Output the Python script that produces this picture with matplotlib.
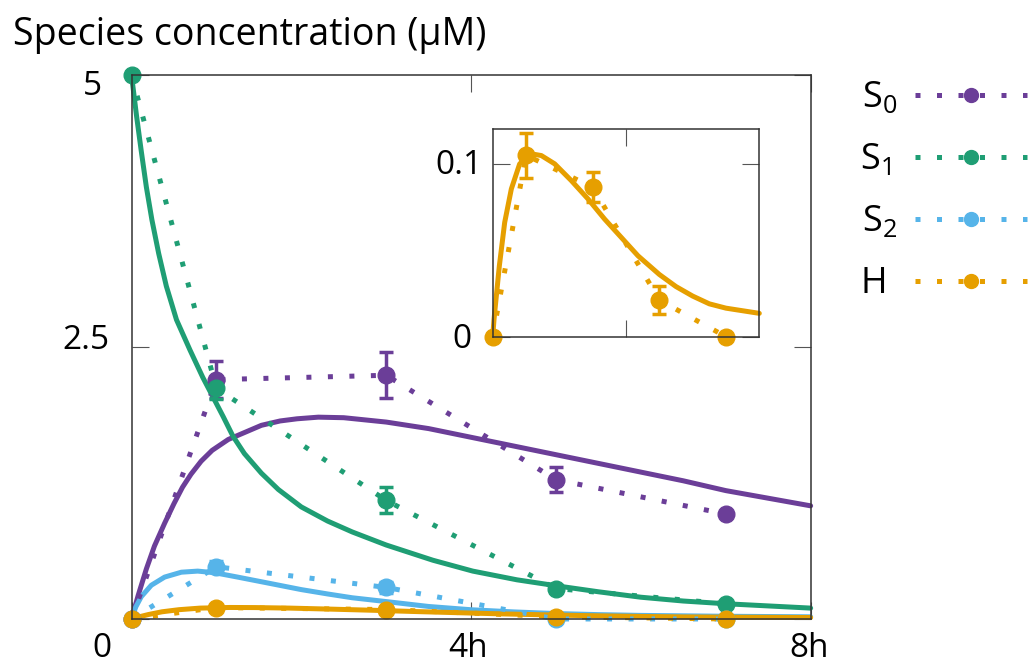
import matplotlib
matplotlib.use('Agg')
import matplotlib.pyplot as plt
from matplotlib.lines import Line2D

plt.rcParams['font.family'] = ['Open Sans', 'DejaVu Sans']
plt.rcParams['mathtext.default'] = 'regular'

# measured time points (hours)
t_data = [0, 1, 3, 5, 7]

s0_data = [0.0, 2.20, 2.24, 1.28, 0.965]
s0_err = [0.0, 0.17, 0.21, 0.115, 0.0]
s1_data = [5.0, 2.12, 1.09, 0.28, 0.14]
s1_err = [0.0, 0.10, 0.12, 0.03, 0.02]
s2_data = [0.0, 0.48, 0.29, 0.0, 0.0]
s2_err = [0.0, 0.05, 0.05, 0.0, 0.0]
h_data = [0.0, 0.105, 0.0865, 0.0212, 0.0]
h_err = [0.0, 0.013, 0.0087, 0.0082, 0.0]

# model curves
s0_fit_t = [0, 0.08, 0.175, 0.27, 0.39, 0.5, 0.6, 0.7, 0.82, 0.95, 1.14, 1.35, 1.53, 1.75, 1.95,
            2.2, 2.5, 3.0, 3.5, 4.0, 4.5, 5.0, 5.5, 6.0, 6.5, 7.0, 7.5, 8.0]
s0_fit = [0, 0.22, 0.46, 0.67, 0.88, 1.06, 1.21, 1.33, 1.45, 1.55, 1.65, 1.72, 1.78, 1.82, 1.84,
          1.855, 1.85, 1.81, 1.75, 1.67, 1.59, 1.51, 1.43, 1.35, 1.27, 1.18, 1.11, 1.04]
s1_fit_t = [0, 0.06, 0.115, 0.175, 0.24, 0.32, 0.41, 0.53, 0.69, 0.84, 0.96, 1.08, 1.195, 1.33,
            1.53, 1.73, 2.0, 2.31, 2.6, 3.0, 3.55, 4.02, 4.54, 5.05, 5.5, 6.0, 6.5, 7.0, 7.5, 8.0]
s1_fit = [5.0, 4.62, 4.30, 3.97, 3.67, 3.36, 3.06, 2.75, 2.47, 2.22, 2.04, 1.86, 1.68, 1.52,
          1.34, 1.19, 1.03, 0.90, 0.80, 0.68, 0.54, 0.44, 0.36, 0.30, 0.25, 0.20, 0.165, 0.14, 0.12, 0.10]
s2_fit_t = [0, 0.05, 0.115, 0.233, 0.39, 0.587, 0.78, 0.98, 1.25, 1.61, 2.0, 2.31, 2.6, 3.0, 3.5,
            4.0, 4.5, 5.0, 5.5, 6.0, 7.0, 8.0]
s2_fit = [0, 0.11, 0.205, 0.31, 0.385, 0.43, 0.44, 0.425, 0.385, 0.33, 0.27, 0.23, 0.195, 0.16, 0.115,
          0.085, 0.065, 0.05, 0.04, 0.033, 0.025, 0.02]
h_fit_t = [0, 0.04, 0.1, 0.2, 0.36, 0.56, 0.81, 1.16, 1.46, 1.86, 2.36, 2.86, 3.36, 3.86, 4.36,
           5.0, 5.5, 6.0, 6.5, 7.0, 7.5, 8.0]
h_fit = [0, 0.010, 0.0217, 0.041, 0.0661, 0.0855, 0.100, 0.1058, 0.1048, 0.100, 0.0903, 0.0797,
         0.068, 0.0574, 0.0468, 0.036, 0.029, 0.0235, 0.019, 0.0165, 0.015, 0.0135]

# trailing spaces pad the narrower labels so all legend texts start at the same x
labels = ['S$_0$', 'S$_1$\u2009', 'S$_2$', 'H ']
colors = ['#6b3e98', '#1f9e74', '#56b4e9', '#e69f00']

lw = 3.6
dots = (0, (1, 3.3))


def draw(ax, tf, yf, yd, ye, c):
    ax.plot(tf, yf, color=c, lw=lw, solid_capstyle='round', solid_joinstyle='round', clip_on=False)
    eb = ax.errorbar(t_data, yd, yerr=ye, color=c, ls=dots, lw=lw, marker='o', ms=12,
                     capsize=5, capthick=2.5, elinewidth=2.5, dash_capstyle='butt')
    arts = [eb.lines[0]] + list(eb.lines[1]) + list(eb.lines[2])
    for art in arts:
        art.set_clip_on(False)


def style(ax):
    for s in ax.spines.values():
        s.set_color('#333333')
        s.set_linewidth(1.1)
    ax.tick_params(direction='in', length=12, width=0.8, color='#555555',
                   top=True, right=True, labelleft=False, labelbottom=False)


fig = plt.figure(figsize=(10.29, 6.72), dpi=100)
ax = fig.add_axes([0.1278, 0.0789, 0.66, 0.8095])

fits = [(s0_fit_t, s0_fit), (s1_fit_t, s1_fit), (s2_fit_t, s2_fit), (h_fit_t, h_fit)]
datas = [(s0_data, s0_err), (s1_data, s1_err), (s2_data, s2_err), (h_data, h_err)]
for (tf, yf), (yd, ye), c in zip(fits, datas, colors):
    draw(ax, tf, yf, yd, ye, c)

ax.set_xlim(0, 8)
ax.set_ylim(0, 5)
ax.set_xticks([0, 4, 8])
ax.set_yticks([0, 2.5, 5])
style(ax)

fs_tick = 24
ann = dict(xycoords=('axes fraction', 'data'), textcoords='offset points', fontsize=fs_tick)
ax.annotate('5', xy=(0, 5), xytext=(-21, -8.6), ha='right', va='center', **ann)
ax.annotate('2.5', xy=(0, 2.5), xytext=(-15.5, 4.5), ha='right', va='center', **ann)
ax.annotate('0', xy=(0, 0), xytext=(-21.5, -21.5), ha='center', va='center', **ann)
annx = dict(xycoords=('data', 'axes fraction'), textcoords='offset points', fontsize=fs_tick)
ax.annotate('4h', xy=(4, 0), xytext=(-2, -21.5), ha='center', va='center', **annx)
ax.annotate('8h', xy=(8, 0), xytext=(-1, -21.5), ha='center', va='center', **annx)

# inset for H
ins = fig.add_axes([0.4788, 0.4990, 0.2591, 0.3086])
draw(ins, h_fit_t, h_fit, h_data, h_err, colors[3])
ins.set_xlim(0, 8)
ins.set_ylim(0, 0.12)
ins.set_xticks([4])
ins.set_yticks([0, 0.1])
style(ins)
ann_i = dict(xycoords=('axes fraction', 'data'), textcoords='offset points', fontsize=fs_tick,
             ha='right', va='center')
ins.annotate('0.1', xy=(0, 0.1), xytext=(-7, -1), **ann_i)
ins.annotate('0', xy=(0, 0), xytext=(-15, -1.7), **ann_i)

fig.text(0.0126, 0.933, 'Species concentration (μM)', fontsize=27, va='baseline', ha='left')

handles = [Line2D([], [], color=c, ls=dots, lw=lw, marker='o', ms=10, dash_capstyle='butt')
           for c in colors]
fig.legend(handles, labels, loc='upper left', bbox_to_anchor=(0.8214, 0.902), frameon=False,
           markerfirst=False, handlelength=3.1, handletextpad=0.5, labelspacing=0.72,
           fontsize=26, numpoints=1, borderaxespad=0)

fig.savefig('out.png', dpi=100)
